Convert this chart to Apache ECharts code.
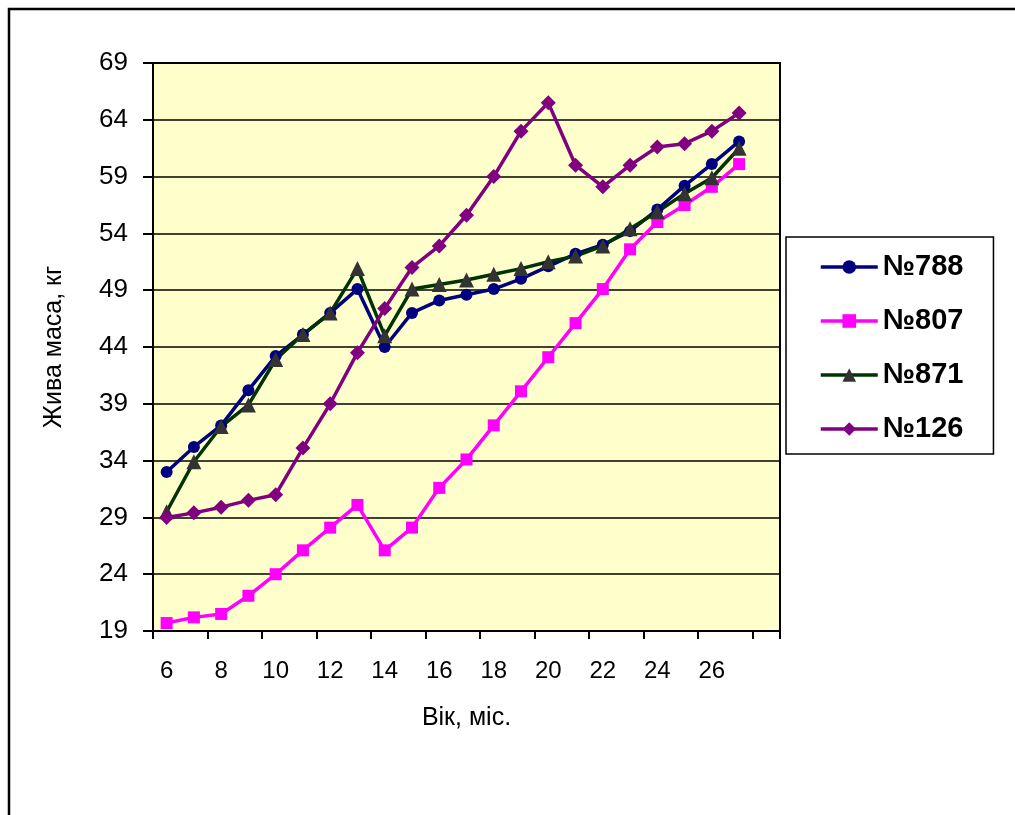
<!DOCTYPE html>
<html>
<head>
<meta charset="utf-8">
<script src="https://cdn.jsdelivr.net/npm/echarts@6/dist/echarts.min.js"></script>
<style>
html,body{margin:0;padding:0;background:#fff;}
#chart{width:1015px;height:815px;}
</style>
</head>
<body>
<div id="chart"></div>
<script>
const months = ['6','7','8','9','10','11','12','13','14','15','16','17','18','19','20','21','22','23','24','25','26','27',''];
const yTicks = [19, 24, 29, 34, 39, 44, 49, 54, 59, 64, 69];
const names = ['№788', '№807', '№871', '№126'];
const s788 = [33.0, 35.2, 37.1, 40.2, 43.2, 45.1, 47.0, 49.1, 44.0, 47.0, 48.1, 48.6, 49.1, 50.0, 51.1, 52.2, 53.0, 54.2, 56.1, 58.2, 60.1, 62.1];
const s807 = [19.7, 20.2, 20.5, 22.1, 24.0, 26.1, 28.1, 30.1, 26.1, 28.1, 31.6, 34.1, 37.1, 40.1, 43.1, 46.1, 49.1, 52.6, 55.0, 56.5, 58.1, 60.1];
const s871 = [29.5, 33.9, 37.0, 38.9, 42.9, 45.1, 47.0, 50.9, 45.0, 49.1, 49.5, 49.9, 50.4, 50.9, 51.5, 52.0, 52.9, 54.4, 55.9, 57.5, 58.9, 61.5];
const s126 = [29.0, 29.4, 29.9, 30.5, 31.0, 35.1, 39.0, 43.5, 47.4, 51.0, 52.9, 55.6, 59.0, 63.0, 65.5, 60.0, 58.1, 60.0, 61.6, 61.9, 63.0, 64.6];

const FONT = '"Liberation Sans", Arial, sans-serif';
const chart = echarts.init(document.getElementById('chart'), null, {renderer: 'canvas'});

function mk(name, data, lineColor, markColor, symbol, size) {
  return {
    name: name, type: 'line', data: data,
    symbol: symbol, symbolSize: size,
    lineStyle: {color: lineColor, width: 3.5},
    itemStyle: {color: markColor, borderColor: markColor, borderWidth: 0},
    emphasis: {disabled: true},
    animation: false
  };
}

chart.setOption({
  animation: false,
  backgroundColor: '#ffffff',
  textStyle: {fontFamily: FONT},
  graphic: [{
    type: 'rect', silent: true, z: -1,
    shape: {x: 9, y: 9, width: 1100, height: 900},
    style: {fill: 'none', stroke: '#000', lineWidth: 2.5}
  }],
  grid: {
    left: 153, top: 63, width: 627, height: 568,
    show: true, backgroundColor: '#FFFFCC', borderColor: '#000', borderWidth: 2,
    containLabel: false
  },
  legend: {
    orient: 'vertical', left: 786, top: 237,
    padding: [15, 30, 10, 33],
    itemGap: 24, itemWidth: 57, itemHeight: 17,
    borderColor: '#000', borderWidth: 1.5, backgroundColor: '#fff',
    lineStyle: {width: 3.5},
    textStyle: {fontFamily: FONT, fontSize: 29, fontWeight: 'bold', color: '#000', lineHeight: 30},
    data: names
  },
  xAxis: {
    type: 'category', data: months, boundaryGap: true,
    name: 'Вік, міс.', nameLocation: 'middle', nameGap: 75,
    nameTextStyle: {fontFamily: FONT, fontSize: 25, color: '#000'},
    axisLine: {lineStyle: {color: '#000', width: 2}},
    axisTick: {show: true, interval: 1, length: 8, inside: false, lineStyle: {color: '#000', width: 2}},
    axisLabel: {interval: 1, margin: 28, fontFamily: FONT, fontSize: 24, color: '#000'},
    splitLine: {show: false}
  },
  yAxis: {
    type: 'value', min: yTicks[0], max: yTicks[yTicks.length - 1], interval: 5,
    name: 'Жива маса, кг', nameLocation: 'middle', nameGap: 86, nameRotate: 90,
    nameTextStyle: {fontFamily: FONT, fontSize: 25, color: '#000'},
    axisLine: {show: true, lineStyle: {color: '#000', width: 2}},
    axisTick: {show: true, length: 10, lineStyle: {color: '#000', width: 2}},
    axisLabel: {margin: 25, fontFamily: FONT, fontSize: 26, color: '#000'},
    splitLine: {show: true, lineStyle: {color: '#000', width: 1.5}}
  },
  series: [
    mk(names[0], s788, '#000080', '#000080', 'circle', 12),
    mk(names[1], s807, '#FF00FF', '#FF00FF', 'rect', 12),
    mk(names[2], s871, '#003300', '#333333', 'triangle', 15),
    mk(names[3], s126, '#800080', '#800080', 'diamond', 15)
  ]
});
</script>
</body>
</html>
